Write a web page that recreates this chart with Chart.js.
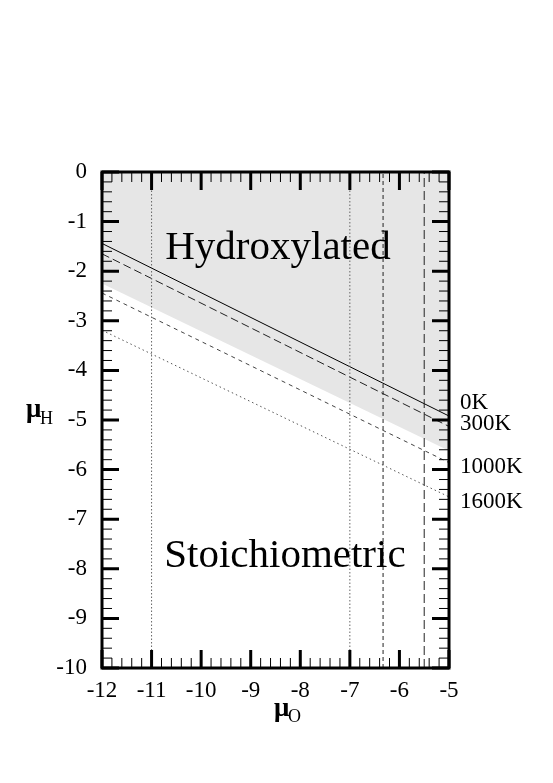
<!DOCTYPE html>
<html>
<head>
<meta charset="utf-8">
<script src="https://cdn.jsdelivr.net/npm/chart.js@4.4.1/dist/chart.umd.min.js"></script>
<style>
  html, body { margin: 0; padding: 0; background: #ffffff; }
  #wrap { width: 553px; height: 783px; }
</style>
</head>
<body>
<div id="wrap"><canvas id="phase"></canvas></div>
<script>
// ── Data ────────────────────────────────────────────────────────────────────

const muOEnds = [-12, -5];                 // x span of the sloped lines
const line0K = [-1.44, -4.92];
const line300K = [-1.65, -5.13];
const line1000K = [-2.44, -5.86];
const line1600K = [-3.19, -6.55];
const shadeEdge = [-2.25, -5.62];          // lower edge of the grey region
const verticalMuO = [-11, -7, -6.33, -5.5];

const tempLabels = ['0K', '300K', '1000K', '1600K'];
const tempLabelMuH = [-4.78, -5.2, -6.07, -6.77];

const xTicks = [-12, -11, -10, -9, -8, -7, -6, -5];
const yTicks = [0, -1, -2, -3, -4, -5, -6, -7, -8, -9, -10];

const SERIF = "'Liberation Serif', 'DejaVu Serif', serif";

// ── Helpers ─────────────────────────────────────────────────────────────────

function pairs(xs, ys) {
  return xs.map((x, i) => ({ x: x, y: ys[i] }));
}

function slopedLine(label, ys, color, dash, width) {
  return {
    label: label,
    data: pairs(muOEnds, ys),
    showLine: true,
    borderColor: color,
    borderWidth: width || 1,
    borderDash: dash,
    pointRadius: 0,
    fill: false,
    order: 1,
  };
}

const vStyles = [
  { color: '#666666', dash: [1.5, 2] },
  { color: '#666666', dash: [1.5, 2] },
  { color: '#222222', dash: [4, 3] },
  { color: '#222222', dash: [9, 4] },
];

const verticalSets = verticalMuO.map((x, i) => ({
  label: 'v' + i,
  data: [{ x: x, y: -10 }, { x: x, y: 0 }],
  showLine: true,
  borderColor: vStyles[i].color,
  borderWidth: 1,
  borderDash: vStyles[i].dash,
  pointRadius: 0,
  fill: false,
  order: 1,
}));

// ── Inward ticks, frame and text ─────────────────────────────────────────────

const framePlugin = {
  id: 'frame',
  afterDatasetsDraw(chart) {
    const { ctx, chartArea: a, scales } = chart;
    const xs = scales.x, ys = scales.y;
    ctx.save();
    ctx.strokeStyle = '#000';

    // minor ticks every 0.2, major every 1
    for (let k = 0; k <= 35; k++) {
      const v = -12 + k * 0.2;
      const px = xs.getPixelForValue(v);
      const major = k % 5 === 0;
      const len = major ? 18 : 10;
      ctx.lineWidth = major ? 3 : 1;
      ctx.beginPath();
      ctx.moveTo(px, a.bottom); ctx.lineTo(px, a.bottom - len);
      ctx.moveTo(px, a.top); ctx.lineTo(px, a.top + len);
      ctx.stroke();
    }
    for (let k = 0; k <= 50; k++) {
      const v = -10 + k * 0.2;
      const py = ys.getPixelForValue(v);
      const major = k % 5 === 0;
      const len = major ? 17 : 10;
      ctx.lineWidth = major ? 3 : 1;
      ctx.beginPath();
      ctx.moveTo(a.left, py); ctx.lineTo(a.left + len, py);
      ctx.moveTo(a.right, py); ctx.lineTo(a.right - len, py);
      ctx.stroke();
    }

    // frame
    ctx.lineWidth = 3;
    ctx.strokeRect(a.left, a.top, a.right - a.left, a.bottom - a.top);

    // region names
    ctx.fillStyle = '#000';
    ctx.textAlign = 'center';
    ctx.textBaseline = 'alphabetic';
    ctx.font = '41px ' + SERIF;
    ctx.fillText('Hydroxylated', xs.getPixelForValue(-8.45), ys.getPixelForValue(-1.75));
    ctx.fillText('Stoichiometric', xs.getPixelForValue(-8.31), ys.getPixelForValue(-7.96));

    // temperature labels
    ctx.textAlign = 'left';
    ctx.font = '23px ' + SERIF;
    tempLabels.forEach((t, i) => {
      ctx.fillText(t, a.right + 11, ys.getPixelForValue(tempLabelMuH[i]));
    });

    // axis titles with subscripts
    ctx.font = 'bold 27px ' + SERIF;
    ctx.fillText('\u03bc', 26, 417);
    ctx.font = '18px ' + SERIF;
    ctx.fillText('H', 40, 424);

    ctx.font = 'bold 27px ' + SERIF;
    ctx.fillText('\u03bc', 274, 716);
    ctx.font = '18px ' + SERIF;
    ctx.fillText('O', 288, 722);

    ctx.restore();
  }
};

// ── Chart ───────────────────────────────────────────────────────────────────

const canvas = document.getElementById('phase');

new Chart(canvas, {
  type: 'scatter',
  data: {
    datasets: [
      {
        label: 'hydroxylated',
        data: pairs(muOEnds, shadeEdge),
        showLine: true,
        borderWidth: 0,
        borderColor: 'rgba(0,0,0,0)',
        backgroundColor: '#e6e6e6',
        pointRadius: 0,
        fill: 'end',
        order: 3,
      },
      ...verticalSets,
      slopedLine('0K', line0K, '#000000', [], 1),
      slopedLine('300K', line300K, '#222222', [8, 4], 1),
      slopedLine('1000K', line1000K, '#444444', [4, 4], 1),
      slopedLine('1600K', line1600K, '#555555', [1.5, 3], 1),
    ]
  },
  options: {
    responsive: true,
    maintainAspectRatio: false,
    animation: false,
    layout: { padding: { top: 172, right: 104, left: 0, bottom: 0 } },
    plugins: {
      legend: { display: false },
      tooltip: { enabled: false },
    },
    scales: {
      x: {
        type: 'linear',
        min: -12,
        max: -5,
        afterFit: s => { s.height = 115; },
        afterBuildTicks: s => { s.ticks = xTicks.map(v => ({ value: v })); },
        ticks: { color: '#000', font: { family: SERIF, size: 23 }, padding: 9, maxRotation: 0 },
        grid: { display: false, drawTicks: false },
        border: { display: false },
      },
      y: {
        type: 'linear',
        min: -10,
        max: 0,
        afterFit: s => { s.width = 102; },
        afterBuildTicks: s => { s.ticks = yTicks.map(v => ({ value: v })); },
        ticks: { color: '#000', font: { family: SERIF, size: 23 }, padding: 15 },
        grid: { display: false, drawTicks: false },
        border: { display: false },
      }
    }
  },
  plugins: [framePlugin]
});
</script>
</body>
</html>
